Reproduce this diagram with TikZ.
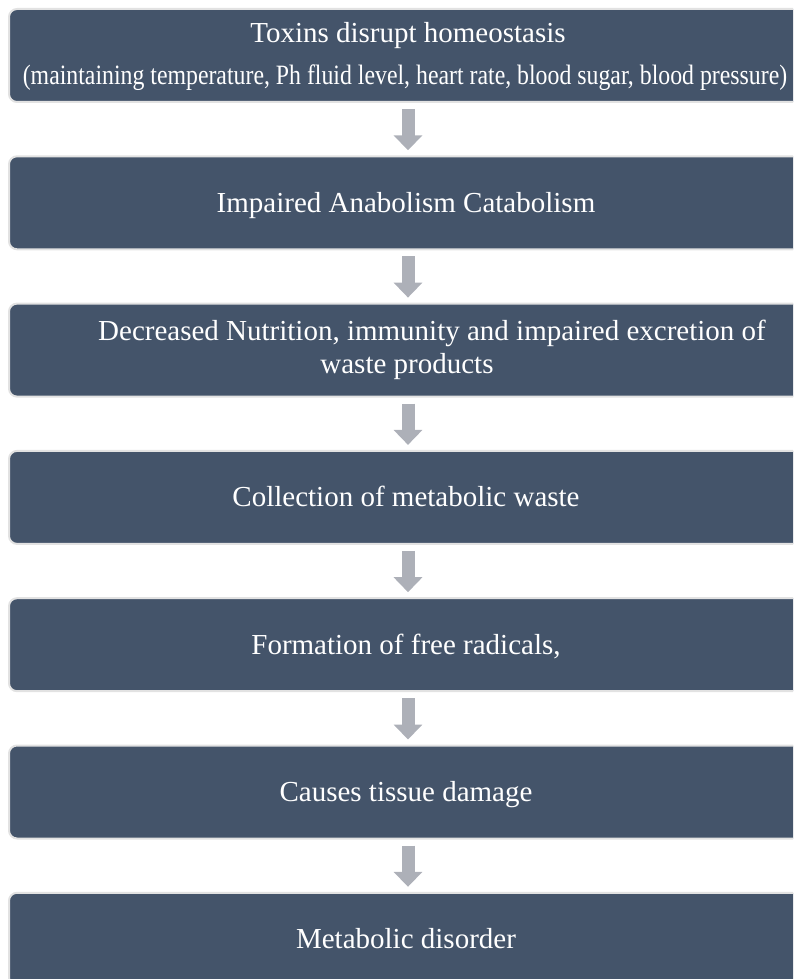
\documentclass[tikz,border=0pt]{standalone}
\usepackage{fontspec}
\setmainfont{Liberation Serif}
\usepackage{graphicx}
\usepackage{tikz}
\usetikzlibrary{arrows.meta}
\definecolor{card_fill}{RGB}{68,84,106}
\definecolor{card_edge}{RGB}{226,226,226}
\definecolor{flow_grey}{RGB}{173,176,184}

\tikzset{
  card/.style={draw=card_edge, line width=2pt, fill=card_fill,
    rounded corners=8pt, minimum width=794pt, minimum height=93pt,
    inner sep=0pt, text=white, font=\fontsize{29}{35}\selectfont,
    text height=19pt, text depth=0pt},
  cardtext/.style={text=white, font=\fontsize{29}{35}\selectfont,
    inner sep=0pt, anchor=base},
  flow/.style={draw=flow_grey, line width=13pt,
    -{Triangle[length=15pt,width=28pt]},
    shorten <=6pt, shorten >=5pt}
}

\begin{document}
\begin{tikzpicture}[x=1pt, y=-1pt]
        \useasboundingbox (0,0) rectangle (793,979);
        \clip (0,0) rectangle (793,979);
        % Step 1
        \node[card] (b1) at (406,55.5) {};
        \node[cardtext] (t1a) at (408,43) {Toxins disrupt homeostasis};
        \node[cardtext] (t1b) at (405,85)
          {\fontsize{28}{34}\selectfont\scalebox{0.85}[1]{(maintaining temperature, Ph fluid level, heart rate, blood sugar, blood pressure)}};
        % Step 2
        \node[card] (b2) at (406,202.8) {Impaired Anabolism Catabolism};
        % Step 3
        \node[card] (b3) at (406,350.1) {};
        \node[cardtext] (t3a) at (432,340)
          {Decreased Nutrition, immunity and impaired excretion of};
        \node[cardtext] (t3b) at (407,373) {waste products};
        % Steps 4 to 7
        \node[card] (b4) at (406,497.4) {Collection of metabolic waste};
        \node[card] (b5) at (406,644.7) {Formation of free radicals,};
        \node[card] (b6) at (406,792) {Causes tissue damage};
        \node[card] (b7) at (406,939.3) {Metabolic disorder};
        % Arrows
        \foreach \a/\b in {b1/b2,b2/b3,b3/b4,b4/b5,b5/b6,b6/b7}
          \draw[flow] ([xshift=2pt]\a.south) -- ([xshift=2pt]\b.north);
      \end{tikzpicture}
\end{document}
